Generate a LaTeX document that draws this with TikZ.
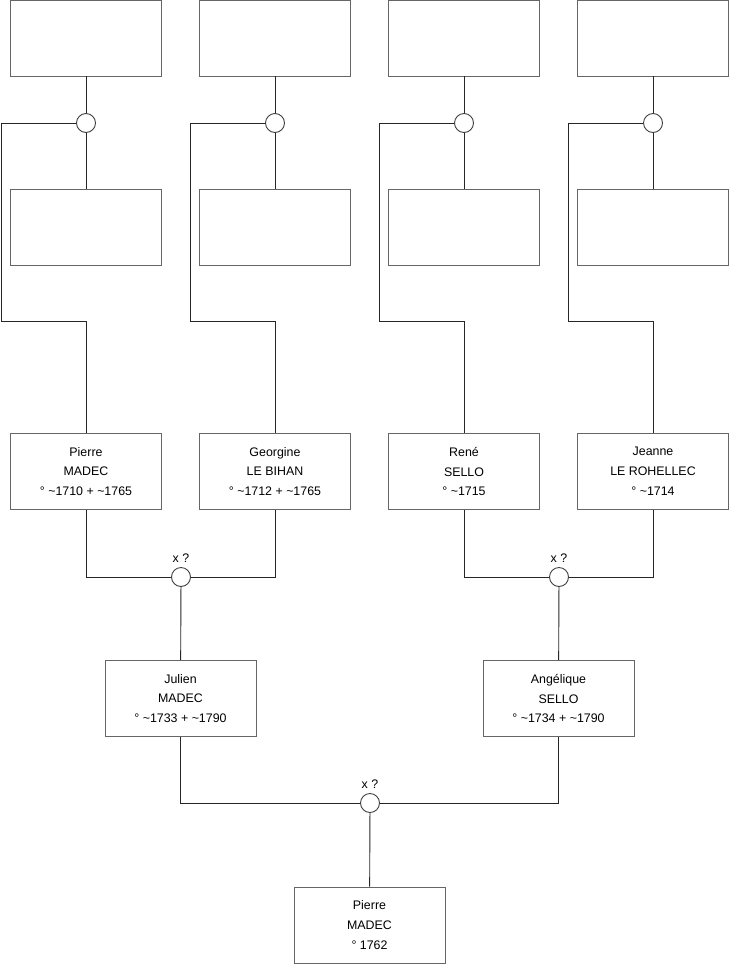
\documentclass[tikz,border=0pt]{standalone}
\usepackage{fontspec}
\setmainfont{Liberation Sans}
\begin{document}
\begin{tikzpicture}[x=1pt,y=-1pt,
  person/.style={draw=black!60, line width=0.9pt, fill=white, minimum width=151pt, minimum height=76pt, inner sep=0pt, align=center, font=\fontsize{12.4}{19.8}\selectfont},
  union/.style={circle, draw=black!75, line width=0.9pt, fill=white, minimum size=19pt, inner sep=0pt},
  link/.style={draw=black!85, line width=0.9pt},
  lab/.style={font=\fontsize{12.4}{14}\selectfont, inner sep=0pt}]
\useasboundingbox (0,0) rectangle (740,975);
% top generation
\foreach \i/\cx in {1/86,2/275,3/464,4/653}{
  \node[person] (t\i) at (\cx,38) {};
  \node[person] (m\i) at (\cx,227) {};
  \node[union] (c\i) at (\cx,123) {};
  \coordinate (ka\i) at (\cx-84.5,321);
}
\node[person] (p1) at (86,471.5) {Pierre\\MADEC\\° \textasciitilde1710 + \textasciitilde1765};
\node[person] (p2) at (275,471.5) {Georgine\\LE BIHAN\\° \textasciitilde1712 + \textasciitilde1765};
\node[person] (p3) at (464,471.5) {René\\SELLO\\° \textasciitilde1715};
\node[person] (p4) at (653,471.5) {Jeanne\\LE ROHELLEC\\° \textasciitilde1714};
\foreach \i in {1,2,3,4}{
  \draw[link] (t\i) -- (c\i);
  \draw[link] (c\i) -- (m\i);
  \draw[link] (c\i.west) -| (ka\i) -| (p\i.north);
}
\node[union] (w1) at (181,577) {};
\node[union] (w2) at (559,577) {};
\node[lab] (x1) at (181,558) {x ?};
\node[lab] (x2) at (559,558) {x ?};
\node[person] (j1) at (180.5,698.5) {Julien\\MADEC\\° \textasciitilde1733 + \textasciitilde1790};
\node[person] (j2) at (558.5,698.5) {Angélique\\SELLO\\° \textasciitilde1734 + \textasciitilde1790};
\draw[link] (p1.south) |- (w1.west);
\draw[link] (p2.south) |- (w1.east);
\draw[link] (p3.south) |- (w2.west);
\draw[link] (p4.south) |- (w2.east);
\draw[link] (w1) -- (j1);
\draw[link] (w2) -- (j2);
\node[union] (w3) at (370,803) {};
\node[lab] (x3) at (370,784) {x ?};
\node[person] (b1) at (369.5,925) {Pierre\\MADEC\\° 1762};
\draw[link] (j1.south) |- (w3.west);
\draw[link] (j2.south) |- (w3.east);
\draw[link] (w3) -- (b1);
\end{tikzpicture}
\end{document}
